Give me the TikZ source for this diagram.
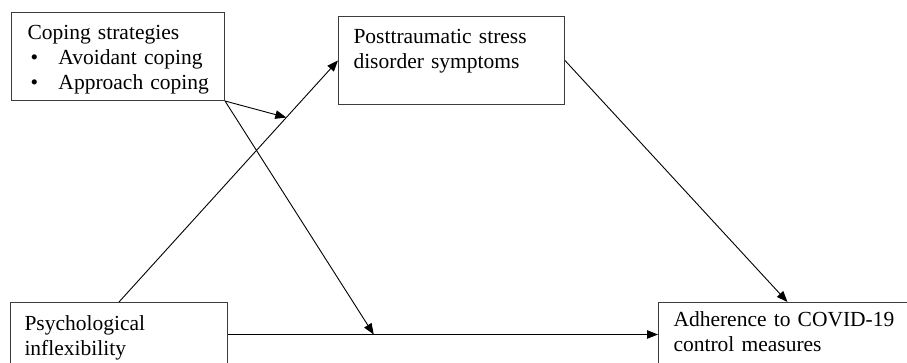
\documentclass[tikz,border=0pt]{standalone}
\usepackage{fontspec}
\setmainfont{Liberation Serif}
\usetikzlibrary{arrows.meta}
\definecolor{boxcolor}{RGB}{60,60,60}
\tikzset{
  var box/.style={
    draw=boxcolor,
    line width=1pt,
    anchor=north west,
    align=left,
    inner ysep=0pt,
    font=\fontsize{21.5}{25}\selectfont
  },
  arrow/.style={
    -{Triangle[length=11pt,width=8.5pt]},
    line width=0.9pt
  }
}

\begin{document}
\begin{tikzpicture}[x=1pt,y=-1pt]
  \clip (0,0) rectangle (907,362);
  % Moderated mediation model
  \node[var box, inner xsep=16pt, text width=181pt, text height=27pt, text depth=61pt] (coping) at (11,12)
    {Coping strategies\\
     \mbox{\hspace*{3pt}\makebox[28pt][l]{\textbullet}Avoidant coping}\\
     \mbox{\hspace*{3pt}\makebox[28pt][l]{\textbullet}Approach coping}};
  \node[var box, inner xsep=15pt, text width=196pt, text height=27pt, text depth=61pt] (ptsd) at (338,16)
    {Posttraumatic stress\\ disorder symptoms};
  \node[var box, inner xsep=14pt, text width=189pt, text height=28pt, text depth=36pt] (psych) at (10,302)
    {Psychological\\ inflexibility};
  \node[var box, inner xsep=15pt, text width=228pt, text height=24pt, text depth=40pt] (adhere) at (658,302)
    {Adherence to COVID-19\\ control measures};

  \draw[arrow] (psych.north) -- coordinate[pos=0.764] (ptsdpath) (ptsd.west);
  \draw[arrow] (ptsd.east) -- (adhere.north);
  \draw[arrow] (psych.east) -- coordinate[pos=0.339] (directpath) (adhere.west);
  \draw[arrow] (coping.south east) -- (ptsdpath);
  \draw[arrow] (coping.south east) -- (directpath);
\end{tikzpicture}
\end{document}
